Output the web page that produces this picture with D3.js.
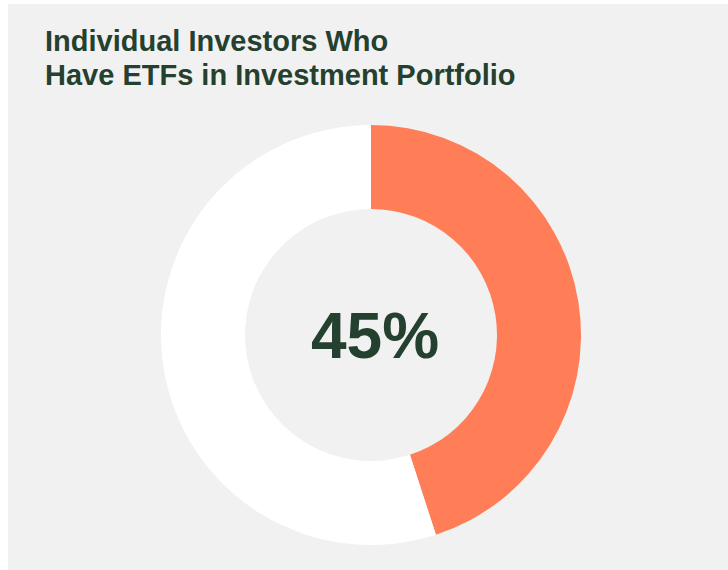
<!DOCTYPE html>
<html>
<head>
<meta charset="utf-8">
<script src="https://cdn.jsdelivr.net/npm/d3@7"></script>
<style>
  html, body { margin: 0; padding: 0; background: #ffffff; }
  svg { display: block; }
</style>
</head>
<body>
<svg id="chart" width="728" height="570"></svg>
<script>
// Share of individual investors holding ETFs
const categories = ["Have ETFs", "No ETFs"];
const values = [45, 55];
const titleLines = ["Individual Investors Who", "Have ETFs in Investment Portfolio"];
const centerLabel = "45%";
const colors = ["#ff7d57", "#ffffff"];

const width = 728, height = 570;
const svg = d3.select("#chart");

// Panel background
svg.append("rect")
  .attr("x", 8).attr("y", 4)
  .attr("width", width - 8).attr("height", height - 4)
  .attr("fill", "#f1f1f1");

// Title
const title = svg.append("text")
  .attr("font-family", "Liberation Sans, Arial, sans-serif")
  .attr("font-weight", "bold")
  .attr("font-size", 29)
  .attr("fill", "#24402f");
titleLines.forEach((line, i) => {
  title.append("tspan").attr("x", 45).attr("y", 51 + i * 34).text(line);
});

// Donut
const cx = 371, cy = 335, outerR = 210, innerR = 126;
const color = d3.scaleOrdinal().domain(categories).range(colors);
const pie = d3.pie().sort(null).value(d => d.value);
const arc = d3.arc().innerRadius(innerR).outerRadius(outerR);
const data = categories.map((c, i) => ({ category: c, value: values[i] }));

const g = svg.append("g").attr("transform", `translate(${cx},${cy})`);
g.selectAll("path")
  .data(pie(data))
  .join("path")
  .attr("d", arc)
  .attr("fill", d => color(d.data.category));

// Center value
g.append("text")
  .attr("x", 4)
  .attr("y", 0)
  .attr("dy", "0.355em")
  .attr("text-anchor", "middle")
  .attr("font-family", "Liberation Sans, Arial, sans-serif")
  .attr("font-weight", "bold")
  .attr("font-size", 64)
  .attr("fill", "#24402f")
  .text(centerLabel);
</script>
</body>
</html>
